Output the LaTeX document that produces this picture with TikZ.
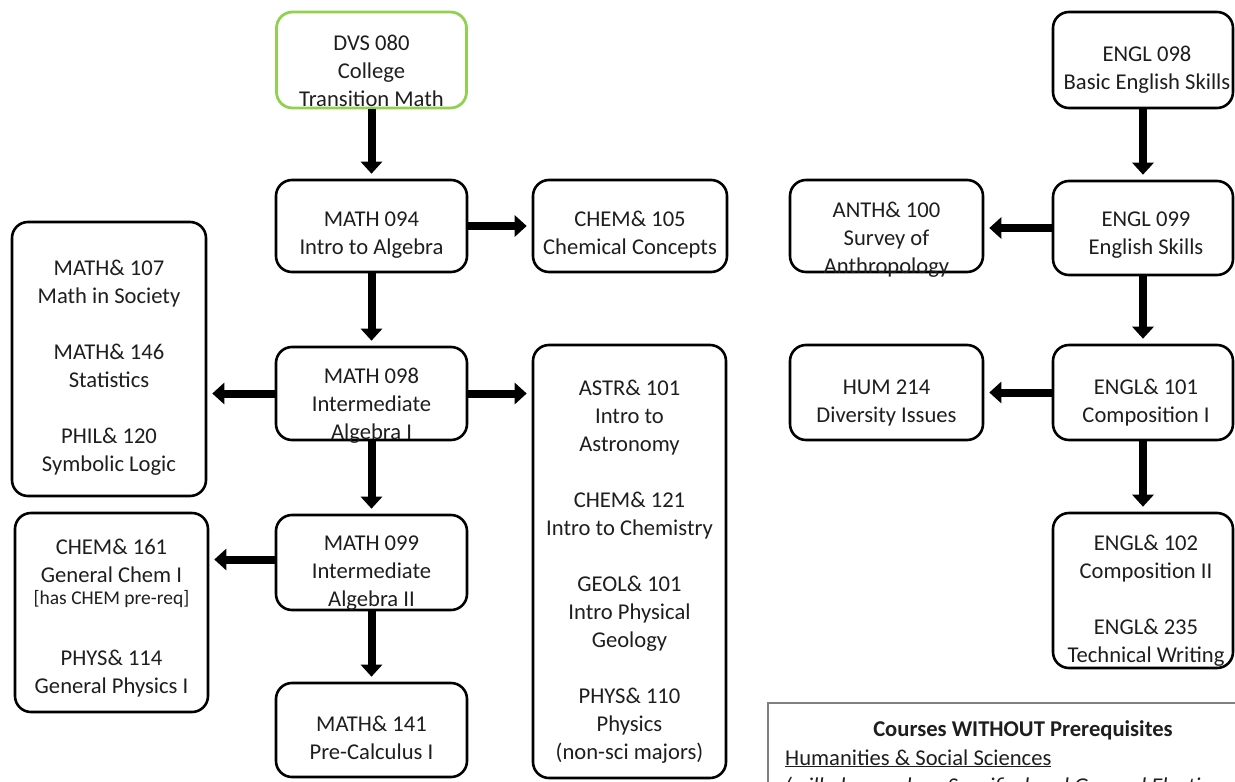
\documentclass[tikz,border=0pt]{standalone}
\usepackage{fontspec}
\setmainfont{Carlito}
\usetikzlibrary{arrows.meta}
\definecolor{boxgreen}{RGB}{146,208,80}
\definecolor{framegray}{RGB}{128,128,128}
\definecolor{ink}{RGB}{30,30,30}
\begin{document}
\begin{tikzpicture}[x=1pt,y=-1pt,
  box/.style={draw=black, line width=2.6pt, rounded corners=16pt, inner sep=0pt},
  txt/.style={align=center, inner sep=0pt, text=ink, font=\fontsize{22.6}{28}\selectfont},
  arr/.style={line width=8pt, -{Triangle[width=21pt,length=12pt]}, shorten >=5pt}]
\useasboundingbox (0,0) rectangle (1235,782);
\clip (0,0) rectangle (1235,782);
% boxes
\node[box, draw=boxgreen, line width=2.8pt, minimum width=190pt, minimum height=96pt] (dvs) at (371.5,60) {};
\node[box, minimum width=191pt, minimum height=92pt] (m094) at (371.5,226) {};
\node[box, minimum width=194pt, minimum height=92pt] (c105) at (630,226) {};
\node[box, minimum width=194pt, minimum height=274pt] (m107) at (109,359) {};
\node[box, minimum width=191pt, minimum height=93pt] (m098) at (371.5,393.5) {};
\node[box, minimum width=193pt, minimum height=433pt] (astr) at (629.5,561.5) {};
\node[box, minimum width=191pt, minimum height=95pt] (m099) at (371.5,562.5) {};
\node[box, minimum width=193pt, minimum height=199pt] (c161) at (111.5,612.5) {};
\node[box, minimum width=191pt, minimum height=94pt] (m141) at (371.5,730) {};
\node[box, minimum width=180pt, minimum height=96pt] (e098) at (1143,60) {};
\node[box, minimum width=193pt, minimum height=92pt] (anth) at (886.5,226) {};
\node[box, minimum width=180pt, minimum height=94pt] (e099) at (1143,228) {};
\node[box, minimum width=193pt, minimum height=95pt] (hum) at (886.5,392.5) {};
\node[box, minimum width=180pt, minimum height=95pt] (e101) at (1143,392.5) {};
\node[box, minimum width=180pt, minimum height=155pt] (e102) at (1143,590.5) {};
\node[draw=framegray, line width=1.2pt, inner sep=0pt, minimum width=492pt, minimum height=117pt] (courses) at (1014,761.5) {};
% texts
\node[txt] (tdvs) at (371.5,71) {DVS 080\\College\\Transition Math};
\node[txt] (tm094) at (371.5,235) {MATH 094\\Intro to Algebra};
\node[txt] (tc105) at (630,235) {CHEM\& 105\\Chemical Concepts};
\node[txt] (tm107) at (109,368) {MATH\& 107\\Math in Society\\[28pt]MATH\& 146\\Statistics\\[28pt]PHIL\& 120\\Symbolic Logic};
\node[txt] (tm098) at (371.5,406) {MATH 098\\Intermediate\\Algebra I};
\node[txt] (tastr) at (629.5,572) {ASTR\& 101\\Intro to\\Astronomy\\[28pt]CHEM\& 121\\Intro to Chemistry\\[28pt]GEOL\& 101\\Intro Physical\\Geology\\[28pt]PHYS\& 110\\Physics\\(non-sci majors)};
\node[txt] (tm099) at (371.5,573) {MATH 099\\Intermediate\\Algebra II};
\node[txt] (tc161a) at (111.5,561) {CHEM\& 161\\General Chem I};
\node[txt, font=\fontsize{19.5}{22}\selectfont] (tc161b) at (111.5,599) {[has CHEM pre-req]};
\node[txt] (tc161c) at (111.5,674) {PHYS\& 114\\General Physics I};
\node[txt] (tm141) at (371.5,738) {MATH\& 141\\Pre-Calculus I};
\node[txt] (te098) at (1147,70) {ENGL 098\\Basic English Skills};
\node[txt] (tanth) at (886.5,240) {ANTH\& 100\\Survey of\\Anthropology};
\node[txt] (te099) at (1146,235.5) {ENGL 099\\English Skills};
\node[txt] (thum) at (886.5,403) {HUM 214\\Diversity Issues};
\node[txt] (te101) at (1146,403) {ENGL\& 101\\Composition I};
\node[txt] (te102) at (1146,601) {ENGL\& 102\\Composition II\\[28pt]ENGL\& 235\\Technical Writing};
\node[inner sep=0pt, text=ink, font=\fontsize{22.6}{28}\selectfont\bfseries] (tcourses) at (1023,730) {Courses WITHOUT Prerequisites};
\node[inner sep=0pt, anchor=base west, text=ink, font=\fontsize{22.6}{28}\selectfont] (thum2) at (785,765) {\underline{Humanities \& Social Sciences}};
\node[inner sep=0pt, anchor=base west, text=ink, font=\fontsize{22.6}{28}\selectfont\itshape] (tital) at (785,793) {(will also work as Specified and General Electives};
% arrows
\draw[arr] (dvs.south) -- (m094.north);
\draw[arr] (m094.east) -- (m094.east -| c105.west);
\draw[arr] (m094.south) -- (m098.north);
\draw[arr] (m098.west) -- (m098.west -| m107.east);
\draw[arr] (m098.east) -- (m098.east -| astr.west);
\draw[arr] (m098.south) -- (m099.north);
\draw[arr] ([yshift=3pt]m099.west) -- ([yshift=3pt]m099.west -| c161.east);
\draw[arr] (m099.south) -- (m141.north);
\draw[arr] (e098.south) -- (e099.north);
\draw[arr] (e099.west) -- (e099.west -| anth.east);
\draw[arr] (e099.south) -- (e101.north);
\draw[arr] (e101.west) -- (e101.west -| hum.east);
\draw[arr] (e101.south) -- (e102.north);
\end{tikzpicture}
\end{document}
